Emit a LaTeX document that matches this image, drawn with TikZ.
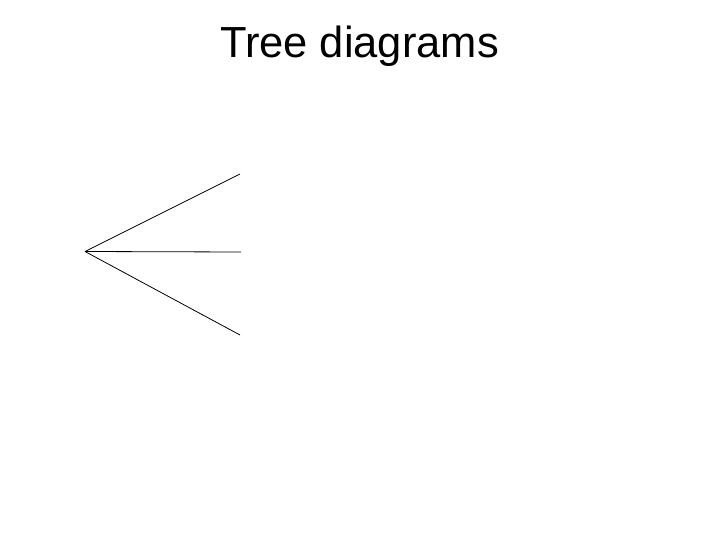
\documentclass[tikz,border=0pt]{standalone}
\usepackage{fontspec}
\setmainfont{Liberation Sans}
\begin{document}
\begin{tikzpicture}[x=1pt,y=-1pt,
  branch/.style={draw=black,line width=0.8pt}]
\useasboundingbox (0,0) rectangle (720,540);
\node[font=\fontsize{43.5}{48}\selectfont,anchor=base,inner sep=0pt] (title) at (359.5,57.5) {Tree diagrams};
\coordinate (root) at (85,251.5);
\coordinate (up) at (240,174);
\coordinate (mid) at (241,252);
\coordinate (low) at (240,335);
\draw[branch] (root) -- (up);
\draw[branch] (root) -- (mid);
\draw[branch] (root) -- (low);
\end{tikzpicture}
\end{document}
